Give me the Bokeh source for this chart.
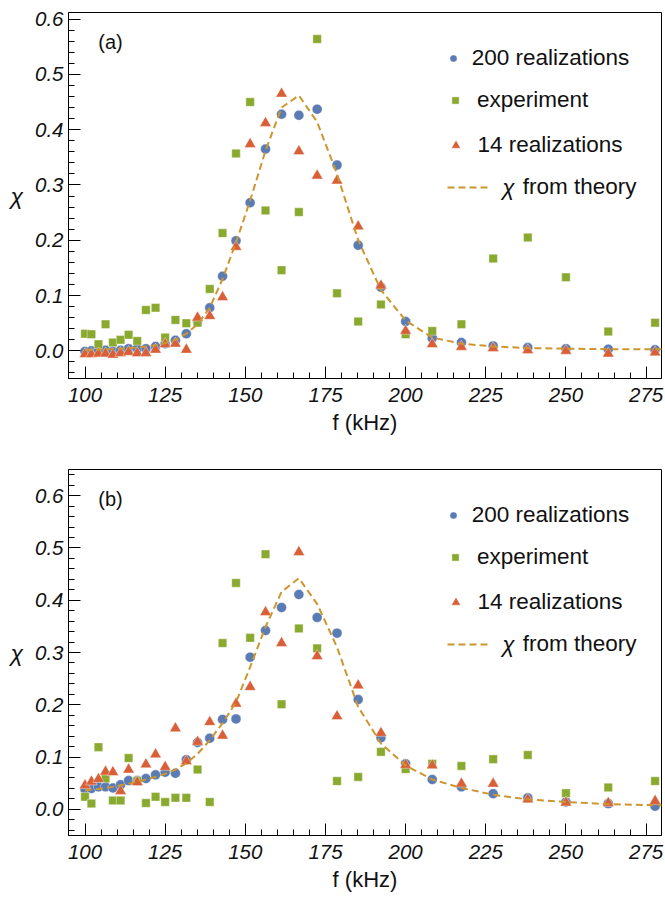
from bokeh.plotting import figure
from bokeh.models import Range1d, FixedTicker, PrintfTickFormatter, Label, Legend, LegendItem
from bokeh.layouts import column
from bokeh.embed import file_html
from bokeh.resources import INLINE

# ---------------- data ----------------
freq = [100.0, 102.0, 104.2, 106.4, 108.7, 111.1, 113.6, 116.3, 119.0, 122.0,
        125.0, 128.2, 131.6, 135.1, 138.9, 142.9, 147.1, 151.5, 156.3, 161.3,
        166.7, 172.4, 178.6, 185.2, 192.3, 200.0, 208.3, 217.4, 227.3, 238.1,
        250.0, 263.2, 277.8]
theory_freq = [100.0, 102.0, 104.2, 106.4, 108.7, 111.1, 113.6, 116.3, 119.0, 122.0,
               125.0, 128.2, 131.6, 135.1, 138.9, 142.9, 147.1, 151.5, 156.3, 161.3,
               166.7, 172.4, 178.6, 185.2, 192.3, 200.0, 208.3, 217.4, 227.3, 238.1,
               250.0, 263.2, 277.8, 294.1]

# panel (a)
a_200 = [-0.001, 0.000, 0.000, 0.001, -0.001, 0.001, 0.004, 0.004, 0.004, 0.008,
         0.013, 0.019, 0.031, 0.053, 0.078, 0.135, 0.199, 0.268, 0.365, 0.428,
         0.426, 0.437, 0.336, 0.191, 0.115, 0.053, 0.023, 0.015, 0.009, 0.006,
         0.004, 0.003, 0.002]
a_exp = [0.031, 0.030, 0.012, 0.048, 0.015, 0.020, 0.029, 0.018, 0.074, 0.078,
         0.024, 0.056, 0.050, 0.051, 0.112, 0.213, 0.357, 0.450, 0.254, 0.146,
         0.251, 0.564, 0.104, 0.053, 0.084, 0.030, 0.036, 0.048, 0.167, 0.205,
         0.133, 0.035, 0.051]
a_14 = [-0.006, -0.006, -0.005, -0.005, -0.007, -0.004, -0.002, -0.004, -0.004, 0.002,
        0.012, 0.013, 0.002, 0.060, 0.063, 0.097, 0.188, 0.374, 0.412, 0.465,
        0.361, 0.317, 0.308, 0.225, 0.118, 0.036, 0.012, 0.007, 0.005, 0.001,
        0.000, -0.005, -0.003]
a_theory = [0.002, 0.002, 0.002, 0.003, 0.003, 0.004, 0.005, 0.006, 0.008, 0.010,
            0.014, 0.020, 0.031, 0.048, 0.078, 0.130, 0.196, 0.272, 0.362, 0.440,
            0.462, 0.414, 0.320, 0.200, 0.110, 0.055, 0.024, 0.013, 0.008, 0.005,
            0.004, 0.003, 0.003, 0.003]

# panel (b)
b_200 = [0.038, 0.040, 0.043, 0.043, 0.041, 0.047, 0.055, 0.055, 0.059, 0.066,
         0.071, 0.069, 0.095, 0.128, 0.136, 0.172, 0.173, 0.291, 0.342, 0.386,
         0.411, 0.367, 0.337, 0.210, 0.137, 0.087, 0.057, 0.043, 0.030, 0.022,
         0.014, 0.011, 0.006]
b_exp = [0.024, 0.011, 0.119, 0.059, 0.017, 0.017, 0.098, 0.054, 0.012, 0.024,
         0.014, 0.022, 0.022, 0.076, 0.014, 0.318, 0.433, 0.328, 0.488, 0.201,
         0.346, 0.308, 0.054, 0.062, 0.110, 0.077, 0.087, 0.083, 0.096, 0.104,
         0.031, 0.042, 0.054]
b_14 = [0.046, 0.053, 0.058, 0.072, 0.071, 0.035, 0.076, 0.052, 0.086, 0.105,
        0.081, 0.155, 0.092, 0.129, 0.167, 0.141, 0.202, 0.234, 0.377, 0.318,
        0.492, 0.293, 0.178, 0.237, 0.146, 0.085, 0.084, 0.049, 0.049, 0.019,
        0.013, 0.012, 0.016]
b_theory = [0.036, 0.038, 0.039, 0.041, 0.043, 0.046, 0.049, 0.053, 0.057, 0.062,
            0.068, 0.076, 0.088, 0.106, 0.132, 0.165, 0.205, 0.272, 0.349, 0.416,
            0.442, 0.393, 0.310, 0.196, 0.126, 0.084, 0.057, 0.041, 0.028, 0.019,
            0.014, 0.010, 0.008, 0.007]

x_major = [100, 125, 150, 175, 200, 225, 250, 275]
x_minor = [v for v in range(95, 281, 5)]
y_major = [0.0, 0.1, 0.2, 0.3, 0.4, 0.5, 0.6]

legend_labels = ["200 realizations", "experiment", "14 realizations", "from theory"]

# ---------------- style ----------------
FONT = "Liberation Sans"
C_CIRC = "#5B7BB5"
C_SQ = "#89A92F"
C_TRI = "#D95F37"
C_LINE = "#CD962E"

FRAME_H = 366
FRAME_L = 68


def make_panel(tag, y_top, y_minor, s200, sexp, s14, sth, height, border_top, border_bottom):
    p = figure(width=665, height=height, output_backend="svg", toolbar_location=None,
               x_range=Range1d(94.85, 279.8), y_range=Range1d(-0.05, y_top),
               min_border_left=FRAME_L, min_border_right=4,
               min_border_top=border_top, min_border_bottom=border_bottom)
    p.grid.visible = False
    p.outline_line_color = "black"
    p.outline_line_width = 1
    p.outline_line_alpha = 1
    p.background_fill_color = "white"
    p.border_fill_color = "white"

    for ax in (p.xaxis[0], p.yaxis[0]):
        ax.axis_line_color = "black"
        ax.major_tick_line_color = "black"
        ax.minor_tick_line_color = "black"
        ax.major_tick_in = 12
        ax.major_tick_out = 0
        ax.minor_tick_in = 6
        ax.minor_tick_out = 0
        ax.major_label_text_font = FONT
        ax.major_label_text_font_style = "italic"
        ax.major_label_text_font_size = "20.5px"
        ax.major_label_text_color = "#111111"

    p.xaxis.ticker = FixedTicker(ticks=x_major, minor_ticks=x_minor)
    p.xaxis.major_label_standoff = 9
    p.xaxis.axis_label = "f (kHz)"
    p.xaxis.axis_label_text_font = FONT
    p.xaxis.axis_label_text_font_style = "normal"
    p.xaxis.axis_label_text_font_size = "22px"
    p.xaxis.axis_label_text_color = "#111111"
    p.xaxis.axis_label_standoff = 5

    p.yaxis.ticker = FixedTicker(ticks=y_major, minor_ticks=y_minor)
    p.yaxis.formatter = PrintfTickFormatter(format="%.1f")
    p.yaxis.major_label_standoff = 5
    p.yaxis.axis_label = "χ"
    p.yaxis.axis_label_text_font = FONT
    p.yaxis.axis_label_text_font_style = "italic"
    p.yaxis.axis_label_text_font_size = "23px"
    p.yaxis.axis_label_text_color = "#111111"
    p.yaxis.axis_label_standoff = 9
    try:
        p.yaxis[0].axis_label_orientation = "horizontal"
    except Exception:
        pass

    r_c = p.scatter(freq, s200, marker="circle", size=10, fill_color=C_CIRC,
                    line_color="white", line_alpha=0.5, line_width=0.8)
    r_s = p.scatter(freq, sexp, marker="square", size=8.5, fill_color=C_SQ,
                    line_color="white", line_alpha=0.5, line_width=0.8)
    r_t = p.scatter(freq, s14, marker="triangle", size=11.5, fill_color=C_TRI,
                    line_color="white", line_alpha=0.5, line_width=0.8)
    r_l = p.line(theory_freq, sth, line_color=C_LINE, line_width=2, line_dash="7 4")

    # legend, one block per row (page-x of glyph box, glyph width, standoff, y below frame top)
    rows = [
        (r_c, legend_labels[0], 443.7, 18, 10, 45.5),
        (r_s, legend_labels[1], 446.0, 18, 13, 87.7),
        (r_t, legend_labels[2], 443.5, 23, 11, 132.7),
        (r_l, legend_labels[3], 446.7, 42, 34, 175.0),
    ]
    for r, lab, x0, gw, st, yoff in rows:
        lg = Legend(items=[LegendItem(label=lab, renderers=[r])],
                    location=(x0 - FRAME_L, FRAME_H - yoff - 15),
                    glyph_width=gw, glyph_height=30, label_height=30,
                    label_standoff=st, padding=0, margin=0, spacing=0,
                    border_line_alpha=0, background_fill_alpha=0,
                    label_text_font=FONT, label_text_font_size="22.5px",
                    label_text_color="#111111")
        p.add_layout(lg)

    # italic chi in the legend entry
    p.add_layout(Label(x=501.7 - FRAME_L, y=FRAME_H - 175.0, x_units="screen", y_units="screen",
                       text="χ", text_font=FONT, text_font_style="italic",
                       text_font_size="22.5px", text_align="left", text_baseline="middle",
                       text_color="#111111"))
    # panel tag
    p.add_layout(Label(x=110 - FRAME_L, y=FRAME_H - 29, x_units="screen", y_units="screen",
                       text=tag, text_font=FONT, text_font_size="20px",
                       text_align="center", text_baseline="middle", text_color="#111111"))
    return p


a_minor = [round(-0.04 + 0.02 * i, 2) for i in range(33)]
b_minor = [round(-0.04 + 0.02 * i, 2) for i in range(35)]

p1 = make_panel("(a)", 0.612, a_minor, a_200, a_exp, a_14, a_theory,
                height=440, border_top=12, border_bottom=62)
p2 = make_panel("(b)", 0.650, b_minor, b_200, b_exp, b_14, b_theory,
                height=459, border_top=29, border_bottom=64)

layout = column(p1, p2, spacing=0)
open("out.html", "w").write(file_html(layout, INLINE))
